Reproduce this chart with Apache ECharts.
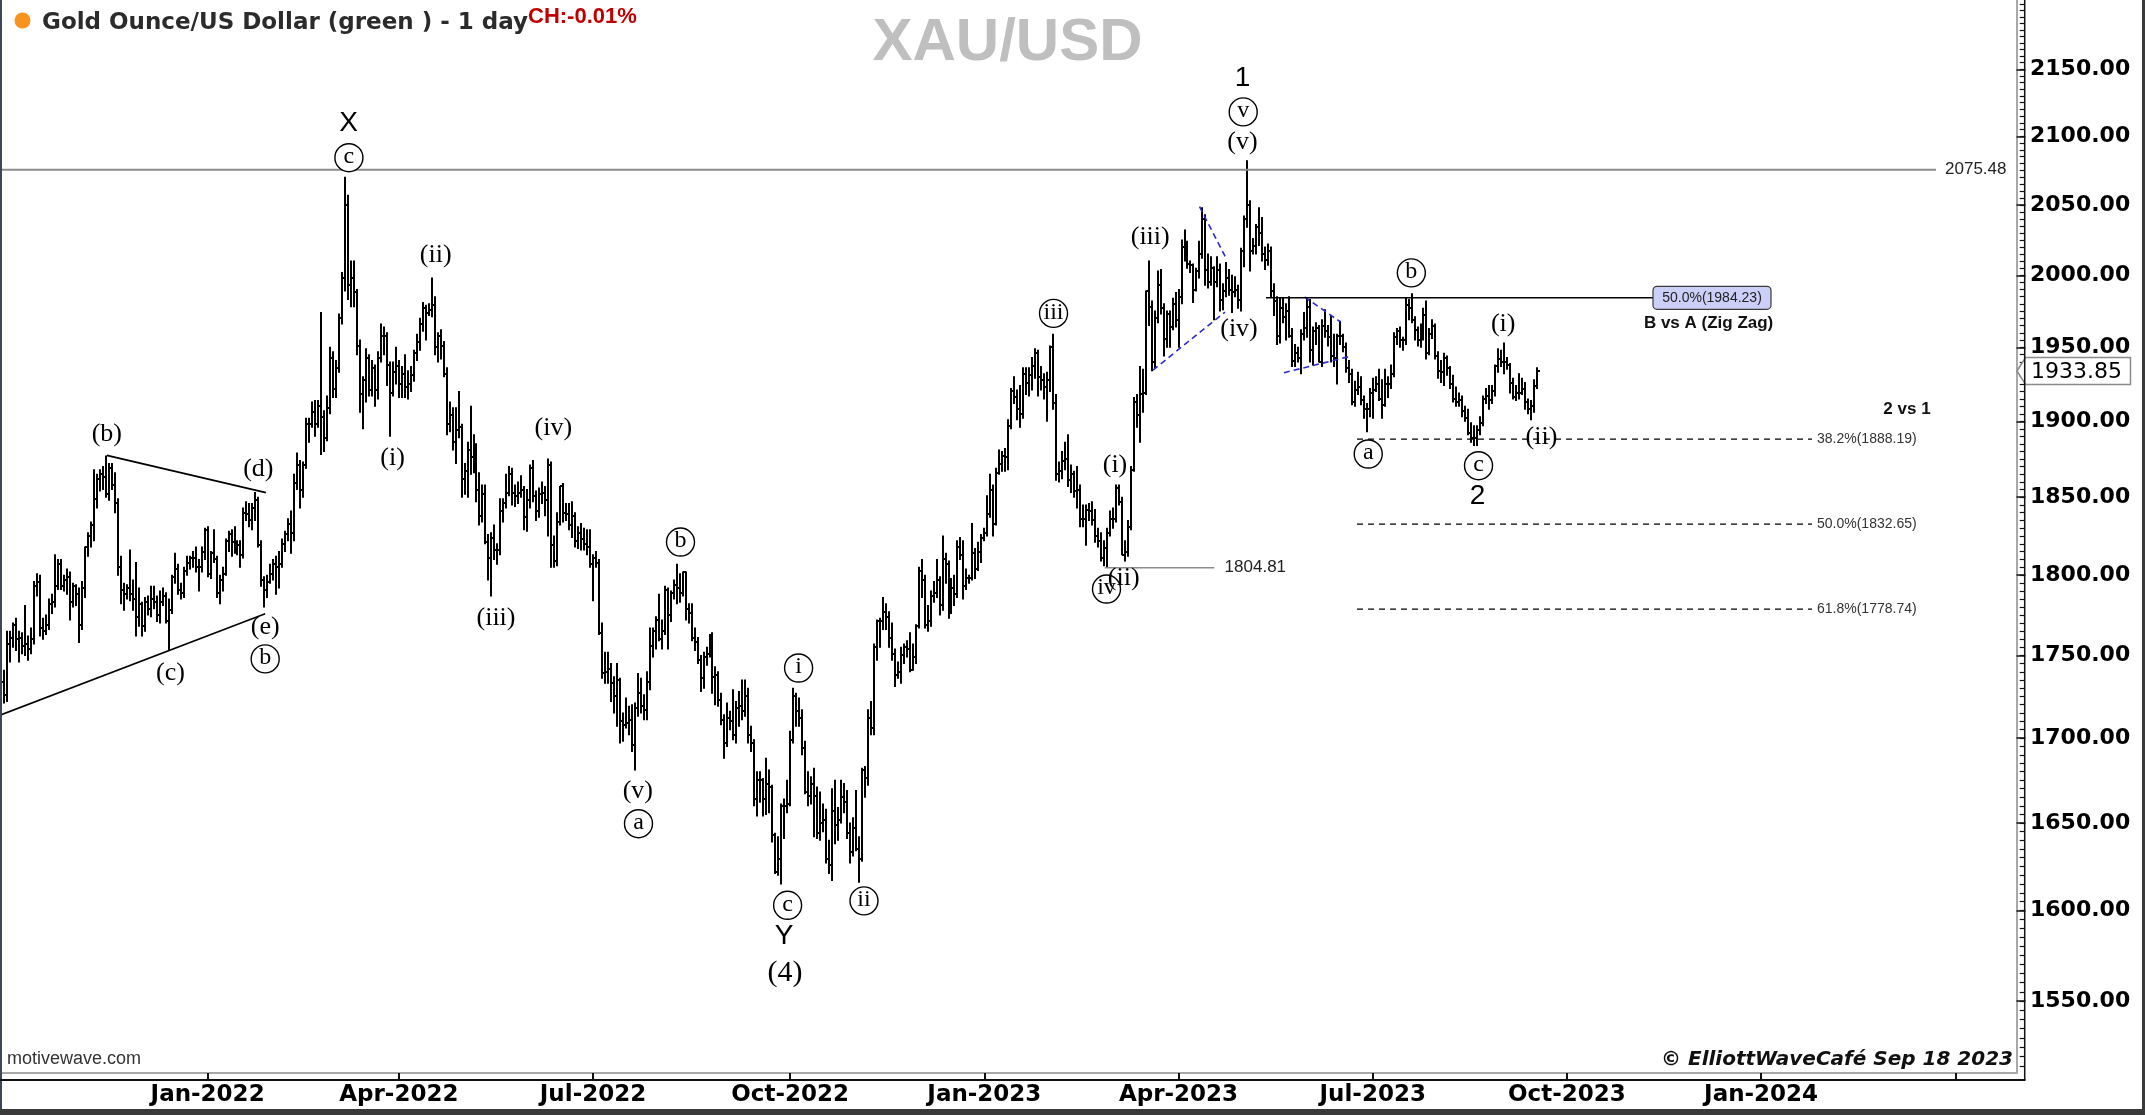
<!DOCTYPE html>
<html><head><meta charset="utf-8">
<script src="https://cdn.jsdelivr.net/npm/echarts@6/dist/echarts.min.js"></script>
<style>html,body{margin:0;padding:0;background:#fff}#c{width:2145px;height:1115px}</style>
</head><body><div id="c"></div>
<script>
// ---- Daily OHLC bars, per month: [day, open, high, low, close] ----
const m2021_09 = [[28,1750,1754,1728,1734],[29,1734,1741,1721,1726],[30,1726,1765,1722,1757]];
const m2021_10 = [[1,1757,1765,1746,1761],[4,1761,1770,1755,1769],[5,1769,1773,1753,1760],[6,1760,1765,1746,1761],[7,1761,1764,1751,1756],[8,1756,1781,1750,1757],[11,1757,1762,1747,1754],[12,1754,1767,1751,1760],[13,1760,1796,1757,1793],[14,1793,1801,1787,1796],[15,1796,1800,1762,1767],[18,1767,1773,1760,1765],[19,1765,1775,1763,1769],[20,1769,1785,1766,1782],[21,1782,1788,1776,1783],[22,1783,1813,1780,1793],[25,1793,1810,1791,1807],[26,1807,1810,1791,1793],[27,1793,1800,1790,1797],[28,1797,1804,1788,1799],[29,1799,1802,1772,1783]];
const m2021_11 = [[1,1783,1795,1780,1793],[2,1793,1794,1781,1788],[3,1788,1792,1758,1769],[4,1769,1796,1766,1792],[5,1792,1818,1786,1818],[8,1818,1827,1812,1825],[9,1825,1834,1818,1832],[10,1832,1868,1822,1849],[11,1849,1865,1843,1862],[12,1862,1868,1854,1865],[15,1865,1870,1855,1863],[16,1863,1877,1850,1852],[17,1852,1872,1848,1869],[18,1869,1872,1855,1858],[19,1858,1866,1840,1846],[22,1846,1849,1800,1805],[23,1805,1812,1782,1791],[24,1791,1795,1778,1788],[25,1788,1794,1785,1792],[26,1792,1816,1784,1788],[29,1788,1797,1778,1785],[30,1785,1808,1762,1774]];
const m2021_12 = [[1,1774,1792,1768,1782],[2,1782,1783,1762,1768],[3,1768,1786,1765,1783],[6,1783,1787,1775,1779],[7,1779,1793,1774,1785],[8,1785,1793,1779,1783],[9,1783,1787,1771,1775],[10,1775,1790,1770,1783],[13,1783,1792,1781,1787],[14,1787,1789,1770,1771],[15,1771,1785,1753,1778],[16,1778,1800,1776,1799],[17,1799,1814,1795,1804],[20,1804,1807,1788,1791],[21,1791,1795,1785,1789],[22,1789,1805,1786,1803],[23,1803,1812,1800,1808],[24,1808,1812,1804,1811],[27,1811,1815,1805,1811],[28,1811,1818,1802,1805],[29,1805,1810,1790,1805],[30,1805,1818,1802,1815],[31,1815,1830,1810,1829]];
const m2022_01 = [[3,1829,1831,1799,1801],[4,1801,1815,1798,1814],[5,1814,1829,1808,1810],[6,1810,1812,1786,1789],[7,1789,1800,1782,1797],[10,1797,1805,1790,1801],[11,1801,1823,1800,1822],[12,1822,1828,1815,1826],[13,1826,1829,1812,1821],[14,1821,1831,1814,1817],[17,1817,1822,1813,1819],[18,1819,1822,1805,1813],[19,1813,1843,1811,1840],[20,1840,1847,1835,1839],[21,1839,1846,1831,1835],[24,1835,1846,1829,1843],[25,1843,1853,1835,1848],[26,1848,1850,1818,1819],[27,1819,1822,1793,1797],[28,1797,1799,1780,1791],[31,1791,1800,1786,1796]];
const m2022_02 = [[1,1796,1807,1795,1801],[2,1801,1810,1797,1807],[3,1807,1812,1788,1805],[4,1805,1815,1792,1807],[7,1807,1823,1805,1820],[8,1820,1828,1815,1826],[9,1826,1836,1822,1833],[10,1833,1841,1814,1827],[11,1827,1865,1822,1859],[14,1859,1879,1855,1871],[15,1871,1874,1843,1855],[16,1855,1873,1850,1871],[17,1871,1902,1869,1898],[18,1898,1902,1886,1898],[21,1898,1913,1896,1906],[22,1906,1914,1890,1898],[23,1898,1914,1896,1910],[24,1910,1974,1878,1903],[25,1903,1907,1880,1889],[28,1889,1917,1887,1909]];
const m2022_03 = [[1,1909,1950,1905,1943],[2,1943,1947,1916,1922],[3,1922,1941,1916,1936],[4,1936,1973,1933,1970],[7,1970,2002,1966,1998],[8,1998,2070,1989,2050],[9,2050,2057,1983,1993],[10,1993,2010,1978,1998],[11,1998,2010,1978,1988],[14,1988,1990,1945,1951],[15,1951,1955,1906,1918],[16,1918,1930,1895,1928],[17,1928,1949,1913,1943],[18,1943,1945,1917,1921],[21,1921,1941,1917,1936],[22,1936,1938,1910,1921],[23,1921,1947,1915,1943],[24,1943,1966,1940,1958],[25,1958,1964,1945,1958],[28,1958,1960,1924,1938],[29,1938,1940,1890,1919],[30,1919,1940,1917,1933],[31,1933,1950,1925,1937]];
const m2022_04 = [[1,1937,1941,1916,1925],[4,1925,1937,1916,1932],[5,1932,1945,1916,1923],[6,1923,1934,1915,1925],[7,1925,1937,1920,1931],[8,1931,1948,1927,1946],[11,1946,1959,1941,1954],[12,1954,1970,1948,1966],[13,1966,1981,1961,1977],[14,1977,1979,1955,1974],[15,1974,1980,1972,1976],[18,1976,1998,1971,1979],[19,1979,1985,1945,1950],[20,1950,1960,1940,1958],[21,1958,1962,1942,1951],[22,1951,1954,1930,1932],[25,1932,1936,1891,1898],[26,1898,1913,1893,1904],[27,1904,1909,1881,1886],[28,1886,1909,1872,1894],[29,1894,1920,1889,1896]];
const m2022_05 = [[2,1896,1898,1850,1862],[3,1862,1872,1852,1867],[4,1867,1886,1850,1881],[5,1881,1910,1865,1876],[6,1876,1891,1866,1883],[9,1883,1885,1847,1855],[10,1855,1866,1832,1838],[11,1838,1858,1834,1852],[12,1852,1858,1820,1821],[13,1821,1826,1797,1811],[16,1811,1827,1787,1824],[17,1824,1832,1810,1816],[18,1816,1820,1807,1816],[19,1816,1849,1813,1841],[20,1841,1849,1834,1846],[23,1846,1865,1843,1853],[24,1853,1870,1851,1865],[25,1865,1869,1845,1853],[26,1853,1858,1844,1851],[27,1851,1860,1846,1853],[30,1853,1864,1850,1855],[31,1855,1857,1829,1837]];
const m2022_06 = [[1,1837,1855,1828,1848],[2,1848,1871,1843,1869],[3,1869,1874,1847,1851],[6,1851,1854,1835,1841],[7,1841,1856,1837,1852],[8,1852,1860,1846,1853],[9,1853,1857,1838,1848],[10,1848,1875,1825,1871],[13,1871,1873,1805,1819],[14,1819,1825,1805,1809],[15,1809,1840,1806,1834],[16,1834,1857,1832,1857],[17,1857,1859,1834,1840],[20,1840,1846,1835,1839],[21,1839,1846,1829,1832],[22,1832,1847,1824,1838],[23,1838,1840,1818,1822],[24,1822,1831,1817,1827],[27,1827,1833,1816,1823],[28,1823,1830,1816,1820],[29,1820,1829,1813,1818],[30,1818,1829,1805,1807]];
const m2022_07 = [[1,1807,1813,1784,1811],[4,1811,1815,1805,1808],[5,1808,1810,1763,1764],[6,1764,1770,1736,1739],[7,1739,1752,1733,1740],[8,1740,1752,1733,1742],[11,1742,1745,1722,1733],[12,1733,1737,1715,1725],[13,1725,1745,1707,1735],[14,1735,1736,1697,1710],[15,1710,1715,1698,1708],[18,1708,1724,1706,1709],[19,1709,1719,1702,1711],[20,1711,1720,1692,1696],[21,1696,1721,1681,1718],[22,1718,1739,1713,1727],[25,1727,1736,1715,1719],[26,1719,1726,1711,1717],[27,1717,1740,1711,1734],[28,1734,1767,1729,1756],[29,1756,1767,1749,1765]];
const m2022_08 = [[1,1765,1774,1754,1772],[2,1772,1788,1759,1760],[3,1760,1772,1754,1765],[4,1765,1793,1763,1791],[5,1791,1792,1754,1775],[8,1775,1790,1771,1789],[9,1789,1797,1785,1794],[10,1794,1807,1782,1792],[11,1792,1801,1783,1789],[12,1789,1802,1787,1802],[15,1802,1802,1772,1779],[16,1779,1782,1770,1776],[17,1776,1782,1759,1761],[18,1761,1767,1753,1758],[19,1758,1761,1745,1747],[22,1747,1750,1728,1736],[23,1736,1752,1730,1749],[24,1749,1755,1744,1751],[25,1751,1763,1749,1758],[26,1758,1764,1727,1737],[29,1737,1743,1720,1738],[30,1738,1740,1719,1723],[31,1723,1727,1708,1711]];
const m2022_09 = [[1,1711,1714,1688,1697],[2,1697,1721,1695,1712],[5,1712,1716,1705,1710],[6,1710,1729,1699,1702],[7,1702,1722,1697,1718],[8,1718,1728,1707,1719],[9,1719,1735,1711,1716],[12,1716,1735,1713,1725],[13,1725,1730,1697,1702],[14,1702,1707,1692,1697],[15,1697,1699,1660,1664],[16,1664,1680,1654,1675],[19,1675,1680,1662,1675],[20,1675,1676,1654,1664],[21,1664,1688,1655,1673],[22,1673,1681,1656,1671],[23,1671,1672,1639,1643],[26,1643,1644,1621,1622],[27,1622,1642,1620,1629],[28,1629,1661,1615,1660],[29,1660,1664,1641,1660],[30,1660,1675,1656,1661]];
const m2022_10 = [[3,1661,1704,1660,1699],[4,1699,1730,1697,1725],[5,1725,1727,1707,1716],[6,1716,1724,1707,1712],[7,1712,1717,1690,1694],[10,1694,1698,1667,1668],[11,1668,1680,1660,1666],[12,1666,1677,1661,1673],[13,1673,1682,1642,1666],[14,1666,1671,1641,1644],[17,1644,1668,1640,1650],[18,1650,1661,1645,1652],[19,1652,1658,1627,1629],[20,1629,1640,1621,1626],[21,1626,1670,1617,1657],[24,1657,1675,1638,1649],[25,1649,1659,1640,1652],[26,1652,1675,1650,1665],[27,1665,1673,1656,1662],[28,1662,1669,1641,1644],[31,1644,1650,1627,1633]];
const m2022_11 = [[1,1633,1653,1631,1647],[2,1647,1669,1634,1635],[3,1635,1642,1616,1629],[4,1629,1682,1628,1681],[7,1681,1683,1665,1676],[8,1676,1717,1672,1712],[9,1712,1722,1702,1706],[10,1706,1757,1702,1755],[11,1755,1772,1747,1771],[14,1771,1773,1755,1771],[15,1771,1786,1766,1777],[16,1777,1782,1766,1774],[17,1774,1777,1755,1761],[18,1761,1770,1747,1751],[21,1751,1754,1731,1738],[22,1738,1746,1736,1740],[23,1740,1755,1733,1750],[24,1750,1757,1745,1755],[25,1755,1759,1749,1754],[28,1754,1764,1740,1741],[29,1741,1757,1741,1749],[30,1749,1769,1745,1768]];
const m2022_12 = [[1,1768,1805,1767,1803],[2,1803,1810,1786,1797],[5,1797,1800,1767,1769],[6,1769,1781,1765,1771],[7,1771,1790,1768,1787],[8,1787,1796,1783,1789],[9,1789,1810,1786,1797],[12,1797,1799,1775,1781],[13,1781,1825,1778,1810],[14,1810,1814,1795,1807],[15,1807,1809,1773,1777],[16,1777,1798,1776,1792],[19,1792,1800,1781,1788],[20,1788,1822,1786,1818],[21,1818,1824,1810,1813],[22,1813,1822,1785,1793],[23,1793,1804,1791,1798],[26,1798,1800,1795,1798],[27,1798,1833,1797,1814],[28,1814,1817,1798,1804],[29,1804,1821,1803,1815],[30,1815,1826,1808,1824]];
const m2023_01 = [[2,1824,1830,1822,1827],[3,1827,1851,1825,1839],[4,1839,1865,1837,1855],[5,1855,1858,1825,1833],[6,1833,1869,1832,1866],[9,1866,1881,1865,1872],[10,1872,1880,1867,1877],[11,1877,1882,1867,1876],[12,1876,1901,1868,1897],[13,1897,1922,1895,1920],[16,1920,1930,1912,1916],[17,1916,1921,1901,1908],[18,1908,1924,1896,1905],[19,1905,1936,1902,1932],[20,1932,1936,1918,1926],[23,1926,1936,1917,1931],[24,1931,1943,1921,1937],[25,1937,1949,1929,1946],[26,1946,1948,1917,1930],[27,1930,1937,1921,1928],[30,1928,1932,1915,1923],[31,1923,1933,1900,1928]];
const m2023_02 = [[1,1928,1951,1920,1950],[2,1950,1959,1908,1912],[3,1912,1918,1861,1865],[6,1865,1873,1860,1867],[7,1867,1880,1862,1874],[8,1874,1886,1868,1875],[9,1875,1891,1857,1861],[10,1861,1871,1853,1865],[13,1865,1867,1850,1854],[14,1854,1870,1843,1855],[15,1855,1858,1831,1836],[16,1836,1845,1831,1836],[17,1836,1845,1819,1842],[20,1842,1846,1835,1841],[21,1841,1847,1832,1835],[22,1835,1842,1821,1825],[23,1825,1830,1818,1822],[24,1822,1827,1809,1811],[27,1811,1822,1806,1817],[28,1817,1830,1805,1827]];
const m2023_03 = [[1,1827,1841,1825,1836],[2,1836,1843,1830,1836],[3,1836,1858,1834,1856],[6,1856,1858,1845,1847],[7,1847,1850,1813,1813],[8,1813,1822,1809,1815],[9,1815,1835,1812,1831],[10,1831,1870,1829,1868],[13,1868,1916,1867,1913],[14,1913,1918,1896,1904],[15,1904,1937,1886,1918],[16,1918,1935,1906,1919],[17,1919,1989,1918,1989],[20,1989,2010,1965,1978],[21,1978,1982,1934,1940],[22,1940,1975,1936,1970],[23,1970,2003,1967,1993],[24,1993,2004,1973,1977],[27,1977,1980,1944,1956],[28,1956,1975,1950,1973],[29,1973,1975,1950,1964],[30,1964,1984,1962,1980],[31,1980,1988,1964,1969]];
const m2023_04 = [[3,1969,1990,1950,1985],[4,1985,2025,1980,2020],[5,2020,2032,2010,2021],[6,2021,2024,2005,2008],[7,2008,2010,2002,2007],[10,2007,2008,1981,1990],[11,1990,2005,1989,2003],[12,2003,2024,1998,2015],[13,2015,2048,2012,2040],[14,2040,2043,1993,2004],[17,2004,2015,1991,1995],[18,1995,2013,1993,2005],[19,2005,2006,1969,1995],[20,1995,2013,1992,2004],[21,2004,2008,1975,1983],[24,1983,1994,1976,1989],[25,1989,2009,1985,1998],[26,1998,2004,1986,1990],[27,1990,2000,1974,1988],[28,1988,1999,1985,1990]];
const m2023_05 = [[1,1990,1993,1977,1983],[2,1983,2019,1975,2017],[3,2017,2042,2006,2040],[4,2040,2082,2034,2050],[5,2050,2053,2003,2017],[8,2017,2026,2015,2021],[9,2021,2036,2015,2034],[10,2034,2048,2021,2030],[11,2030,2041,2010,2015],[12,2015,2020,2004,2011],[15,2011,2022,2007,2017],[16,2017,2020,1985,1989],[17,1989,1994,1972,1982],[18,1982,1985,1952,1958],[19,1958,1984,1953,1977],[22,1977,1984,1967,1971],[23,1971,1980,1955,1975],[24,1975,1985,1957,1958],[25,1958,1963,1937,1941],[26,1941,1952,1937,1946],[29,1946,1950,1940,1943],[30,1943,1962,1932,1959],[31,1959,1974,1955,1963]];
const m2023_06 = [[1,1963,1983,1957,1978],[2,1978,1983,1940,1948],[5,1948,1964,1938,1961],[6,1961,1967,1952,1963],[7,1963,1965,1940,1940],[8,1940,1969,1937,1965],[9,1965,1976,1957,1961],[12,1961,1965,1951,1957],[13,1957,1972,1940,1944],[14,1944,1959,1937,1943],[15,1943,1959,1925,1958],[16,1958,1968,1952,1958],[19,1958,1959,1947,1950],[20,1950,1953,1933,1936],[21,1936,1941,1926,1932],[22,1932,1935,1911,1913],[23,1913,1927,1910,1921],[26,1921,1933,1918,1923],[27,1923,1930,1911,1914],[28,1914,1917,1902,1908],[29,1908,1912,1893,1908],[30,1908,1922,1903,1919]];
const m2023_07 = [[3,1919,1929,1902,1921],[4,1921,1930,1920,1925],[5,1925,1935,1914,1915],[6,1915,1928,1902,1911],[7,1911,1935,1910,1925],[10,1925,1930,1916,1925],[11,1925,1938,1922,1932],[12,1932,1960,1930,1957],[13,1957,1963,1952,1961],[14,1961,1964,1950,1955],[17,1955,1957,1948,1955],[18,1955,1984,1952,1979],[19,1979,1983,1969,1977],[20,1977,1987,1967,1969],[21,1969,1971,1955,1962],[24,1962,1964,1951,1955],[25,1955,1966,1950,1965],[26,1965,1977,1955,1972],[27,1972,1982,1942,1946],[28,1946,1963,1945,1959],[31,1959,1969,1956,1965]];
const m2023_08 = [[1,1965,1966,1942,1944],[2,1944,1947,1929,1934],[3,1934,1941,1926,1933],[4,1933,1946,1924,1943],[7,1943,1944,1931,1936],[8,1936,1937,1922,1925],[9,1925,1931,1913,1915],[10,1915,1923,1910,1913],[11,1913,1919,1910,1914],[14,1914,1917,1903,1907],[15,1907,1910,1900,1902],[16,1902,1908,1891,1892],[17,1892,1899,1886,1889],[18,1889,1897,1884,1889],[21,1889,1897,1884,1894],[22,1894,1903,1891,1899],[23,1899,1917,1897,1915],[24,1915,1922,1912,1917],[25,1917,1924,1908,1914],[28,1914,1924,1912,1920],[29,1920,1938,1917,1937],[30,1937,1949,1933,1942],[31,1942,1948,1937,1940]];
const m2023_09 = [[1,1940,1953,1932,1940],[4,1940,1943,1935,1938],[5,1938,1939,1919,1926],[6,1926,1929,1915,1916],[7,1916,1924,1914,1919],[8,1919,1932,1915,1919],[11,1919,1929,1918,1922],[12,1922,1926,1908,1913],[13,1913,1915,1905,1908],[14,1908,1914,1901,1910],[15,1910,1928,1906,1924],[18,1924,1936,1922,1933.85]];

const monthly = [['2021-09',m2021_09],['2021-10',m2021_10],['2021-11',m2021_11],['2021-12',m2021_12],
 ['2022-01',m2022_01],['2022-02',m2022_02],['2022-03',m2022_03],['2022-04',m2022_04],['2022-05',m2022_05],['2022-06',m2022_06],
 ['2022-07',m2022_07],['2022-08',m2022_08],['2022-09',m2022_09],['2022-10',m2022_10],['2022-11',m2022_11],['2022-12',m2022_12],
 ['2023-01',m2023_01],['2023-02',m2023_02],['2023-03',m2023_03],['2023-04',m2023_04],['2023-05',m2023_05],['2023-06',m2023_06],
 ['2023-07',m2023_07],['2023-08',m2023_08],['2023-09',m2023_09]];

// Axis range and tick values
const axisStart = '2021-09-28', axisEnd = '2024-04-29';
const priceMin = 1511.3, priceMax = 2203;
const majorTicks = [1550,1600,1650,1700,1750,1800,1850,1900,1950,2000,2050,2100,2150];
const minorTicks = [];
for (let v = 1515; v <= 2200; v += 5) minorTicks.push(v);
const monthNames = ['Jan','Feb','Mar','Apr','May','Jun','Jul','Aug','Sep','Oct','Nov','Dec'];
const lastPrice = 1933.85;

// Wave labels: [text, barIndex, price, kind]  kind: p=paren, c=circled, s=sans big, n=serif big
const waveLabels = [
 ['(b)',35.25,1891.5,'p'],['(d)',85.96,1868.4,'p'],['(e)',88.27,1767.2,'p'],['b',88.27,1747.9,'c'],['(c)',56.57,1739.4,'p'],
 ['X',116.16,2109.6,'s'],['c',116.29,2084.3,'c'],['(i)',130.92,1875.6,'p'],['(ii)',145.35,2013.9,'p'],['(iii)',165.53,1773.3,'p'],
 ['(iv)',184.74,1895.6,'p'],['(v)',213.0,1668.6,'p'],['a',213.23,1649.6,'c'],['b',227.29,1821.1,'c'],['i',266.82,1742.3,'c'],
 ['c',263.14,1603.0,'c'],['Y',262.0,1585.7,'s'],['(4)',262.24,1565.5,'n'],['ii',288.71,1605.5,'c'],['iii',352.15,1973.4,'c'],
 ['(i)',372.73,1871.0,'p'],['iv',369.89,1791.3,'c'],['(ii)',375.65,1798.0,'p'],['(iii)',384.52,2026.6,'p'],['(iv)',414.24,1962.6,'p'],
 ['1',415.42,2143.1,'s'],['v',415.65,2118.1,'c'],['(v)',415.42,2095.9,'p'],['a',457.5,1878.3,'c'],['b',471.93,2001.7,'c'],
 ['c',494.42,1870.6,'c'],['2',494.05,1850.8,'s'],['(i)',502.67,1966.2,'p'],['(ii)',515.5,1889.3,'p']
];
// Drawn lines: [idx1, price1, idx2, price2, style]
const waveLines = [
 [35.25,1877.4,88.51,1853.0,'solid'],
 [-0.5,1713.7,88.27,1775.8,'solid'],
 [385.45,1934.5,409.55,1974.3,'blue'],
 [401.02,2048.8,409.65,2013.1,'blue'],
 [436.17,1984.8,448.29,1967.4,'blue'],
 [429.27,1932.7,451.17,1943.7,'blue'],
 [-0.5,2075.48,647.56,2075.48,'gray'],
 [369.32,1804.81,405.97,1804.81,'gray1'],
 [423.28,1984.23,552.82,1984.23,'solid'],
 [453.75,1888.19,606.05,1888.19,'dash'],
 [453.75,1832.65,606.05,1832.65,'dash'],
 [453.75,1778.74,606.05,1778.74,'dash']
];
// Text notes: [text, idx, price, kind]
const notes = [
 ['2075.48',650.57,2075.48,'lvl'],['1804.81',409.42,1804.81,'lvl'],
 ['38.2%(1888.19)',607.72,1888.19,'fib'],['50.0%(1832.65)',607.72,1832.65,'fib'],['61.8%(1778.74)',607.72,1778.74,'fib'],
 ['2 vs 1',637.84,1908.2,'bold'],['B vs A (Zig Zag)',571.43,1966.7,'bold'],['50.0%(1984.23)',572.57,1984.23,'box']
];

// ---- build categories (weekdays) and bars ----
const cats = [];
for (let t = Date.parse(axisStart + 'T00:00:00Z'); t <= Date.parse(axisEnd + 'T00:00:00Z'); t += 86400000) {
  const d = new Date(t); const wd = d.getUTCDay();
  if (wd === 0 || wd === 6) continue;
  cats.push(d.toISOString().slice(0, 10));
}
const catIndex = {}; cats.forEach((c, i) => catIndex[c] = i);
const bars = [];
monthly.forEach(([ym, arr]) => arr.forEach(r => {
  const idx = catIndex[ym + '-' + String(r[0]).padStart(2, '0')];
  if (idx !== undefined) bars.push([idx, r[1], r[2], r[3], r[4]]);
}));
function isQuarterStart(i) {
  const m = cats[i].slice(5, 7);
  if (cats[i].slice(0, 4) === '2021') return false;
  if (['01','04','07','10'].indexOf(m) < 0) return false;
  return i === 0 || cats[i - 1].slice(5, 7) !== m;
}
function monthLabel(v) {
  const y = v.slice(0, 4), m = +v.slice(5, 7);
  if (y === '2024' && m === 4) return '';
  return monthNames[m - 1] + '-' + y;
}
function xAt(api, idx) {
  const a = api.coord([0, 2000])[0], b = api.coord([1, 2000])[0];
  return a + idx * (b - a);
}
const FS = '"Liberation Serif", "Times New Roman", serif';
const FA = '"Liberation Sans", Arial, sans-serif';
function txt(x, y, text, font, fill, align) {
  return {type:'text', x:x, y:y, style:{text:text, font:font, fill:fill||'#000', align:align||'center', verticalAlign:'middle', textAlign:align||'center', textVerticalAlign:'middle'}};
}

const chart = echarts.init(document.getElementById('c'), null, {renderer:'canvas'});
const option = {
  animation: false,
  backgroundColor: '#ffffff',
  grid: {left: 0, right: 128.5, top: 0, bottom: 42, containLabel: false, outerBoundsMode: 'none'},
  xAxis: {
    type: 'category', data: cats, boundaryGap: true,
    axisLine: {show: true, lineStyle: {color: '#a8a8a8', width: 2}},
    axisTick: {show: true, alignWithLabel: true, interval: (i) => isQuarterStart(i), length: 7, lineStyle: {color: '#111', width: 2}},
    axisLabel: {show: true, interval: (i) => isQuarterStart(i), formatter: monthLabel, margin: 11, color: '#000', fontFamily: 'DejaVu Sans', fontWeight: 'bold', fontSize: 23},
    splitLine: {show: false}
  },
  yAxis: [
    {type: 'log', logBase: 10, min: priceMin, max: priceMax, position: 'right',
     axisLine: {show: true, onZero: false, lineStyle: {color: '#a8a8a8', width: 2}},
     axisTick: {show: true, customValues: majorTicks, length: 9, lineStyle: {color: '#111', width: 1.5}},
     axisLabel: {show: true, customValues: majorTicks, formatter: (v) => Number(v).toFixed(2), margin: 13.5, color: '#000', fontFamily: 'DejaVu Sans', fontWeight: 'bold', fontSize: 22},
     splitLine: {show: false}},
    {type: 'log', logBase: 10, min: priceMin, max: priceMax, position: 'right', offset: 8.2,
     axisLine: {show: false},
     axisTick: {show: true, inside: true, customValues: minorTicks, length: 5, lineStyle: {color: '#111', width: 1.2}},
     axisLabel: {show: false}, splitLine: {show: false}}
  ],
  series: [
    {
      type: 'custom', name: 'bars', data: bars, encode: {x: 0, y: [1, 2, 3, 4]}, z: 3, silent: true,
      renderItem: function (params, api) {
        const i = api.value(0);
        const pH = api.coord([i, api.value(2)]), pL = api.coord([i, api.value(3)]);
        const pO = api.coord([i, api.value(1)]), pC = api.coord([i, api.value(4)]);
        const x = Math.round(pH[0]);
        const st = {stroke: '#000', lineWidth: 2};
        return {type: 'group', children: [
          {type: 'line', shape: {x1: x, y1: pH[1] - 0.5, x2: x, y2: pL[1] + 0.5}, style: st},
          {type: 'line', shape: {x1: x - 3, y1: Math.round(pO[1]), x2: x, y2: Math.round(pO[1])}, style: {stroke: '#000', lineWidth: 2}},
          {type: 'line', shape: {x1: x, y1: Math.round(pC[1]), x2: x + 3, y2: Math.round(pC[1])}, style: {stroke: '#000', lineWidth: 2}}
        ]};
      }
    },
    {
      type: 'custom', name: 'lines', data: waveLines.map(l => [l[0], l[1]]), encode: {x: 0, y: 1}, z: 4, silent: true,
      renderItem: function (params, api) {
        const l = waveLines[params.dataIndex];
        const x1 = xAt(api, l[0]), x2 = xAt(api, l[2]);
        const y1 = api.coord([0, l[1]])[1], y2 = api.coord([0, l[3]])[1];
        let style = {stroke: '#000', lineWidth: 1.6};
        if (l[4] === 'blue') style = {stroke: '#2b2bd0', lineWidth: 1.6, lineDash: [6, 4]};
        if (l[4] === 'gray') style = {stroke: '#8c8c8c', lineWidth: 2};
        if (l[4] === 'gray1') style = {stroke: '#8c8c8c', lineWidth: 1.5};
        if (l[4] === 'dash') style = {stroke: '#000', lineWidth: 1.3, lineDash: [6, 5]};
        return {type: 'line', shape: {x1: x1, y1: y1, x2: x2, y2: y2}, style: style};
      }
    },
    {
      type: 'custom', name: 'notes', data: notes.map(n => [n[1], n[2]]), encode: {x: 0, y: 1}, z: 5, silent: true,
      renderItem: function (params, api) {
        const n = notes[params.dataIndex];
        const x = xAt(api, n[1]), y = api.coord([0, n[2]])[1];
        if (n[3] === 'lvl') return txt(x, y, n[0], '17px ' + FA, '#222', 'left');
        if (n[3] === 'fib') return txt(x, y, n[0], '14px ' + FA, '#333', 'left');
        if (n[3] === 'bold') return txt(x, y, n[0], 'bold 17px ' + FA, '#111', 'center');
        return {type: 'group', children: [
          {type: 'rect', shape: {x: x - 59, y: y - 11.5, width: 118, height: 23, r: 4}, style: {fill: '#ccd0f8', stroke: '#3a3a3a', lineWidth: 1.2}},
          txt(x, y + 0.5, n[0], '14px ' + FA, '#222', 'center')
        ]};
      }
    },
    {
      type: 'custom', name: 'waves', data: waveLabels.map(w => [w[1], w[2]]), encode: {x: 0, y: 1}, z: 6, silent: true,
      renderItem: function (params, api) {
        const w = waveLabels[params.dataIndex];
        const x = xAt(api, w[1]), y = api.coord([0, w[2]])[1];
        if (w[3] === 'c') {
          return {type: 'group', children: [
            {type: 'circle', shape: {cx: x, cy: y, r: 14}, style: {fill: '#fff', stroke: '#000', lineWidth: 1.4}},
            txt(x, y - 1, w[0], '24px ' + FS, '#000', 'center')
          ]};
        }
        if (w[3] === 's') return txt(x, y, w[0], '28px ' + FA, '#000', 'center');
        if (w[3] === 'n') return txt(x, y, w[0], '30px ' + FS, '#000', 'center');
        return txt(x, y, w[0], '26px ' + FS, '#000', 'center');
      }
    },
    {
      type: 'custom', name: 'lastPrice', data: [[bars.length - 1, lastPrice]], encode: {x: 0, y: 1}, z: 7, silent: true,
      renderItem: function (params, api) {
        const y = api.coord([0, lastPrice])[1];
        const x0 = params.coordSys.x + params.coordSys.width + 0.5;
        return {type: 'group', children: [
          {type: 'polygon', shape: {points: [[x0, y], [x0 + 8.5, y - 13.5], [x0 + 113.5, y - 13.5], [x0 + 113.5, y + 13.5], [x0 + 8.5, y + 13.5]]},
           style: {fill: '#fff', stroke: '#8a8a8a', lineWidth: 1.5}},
          txt(x0 + 14, y + 1, lastPrice.toFixed(2), '22px "DejaVu Sans"', '#000', 'left')
        ]};
      }
    }
  ],
  graphic: [
    {type: 'rect', shape: {x: 0, y: 0, width: 2, height: 1115}, style: {fill: '#3b4656'}, z: 10},
    {type: 'rect', shape: {x: 0, y: 1109, width: 2145, height: 6}, style: {fill: '#3a3a3a'}, z: 10},
    {type: 'rect', shape: {x: 2142, y: 0, width: 3, height: 1115}, style: {fill: '#3a3a3a'}, z: 10},
    {type: 'line', shape: {x1: 2024.7, y1: 0, x2: 2024.7, y2: 1080}, style: {stroke: '#111', lineWidth: 1.5}, z: 10},
    {type: 'line', shape: {x1: 0, y1: 1080, x2: 2025.5, y2: 1080}, style: {stroke: '#111', lineWidth: 2}, z: 10},
    {type: 'circle', shape: {cx: 22.5, cy: 20.5, r: 8}, style: {fill: '#f7931e'}, z: 10},
    {type: 'text', x: 42, y: 23, style: {text: 'Gold Ounce/US Dollar (green ) - 1 day', font: 'bold 23px "DejaVu Sans"', fill: '#2b2b2b', textVerticalAlign: 'middle', verticalAlign: 'middle'}, z: 10},
    {type: 'text', x: 528, y: 17, style: {text: 'CH:-0.01%', font: 'bold 22px ' + FA, fill: '#c00000', textVerticalAlign: 'middle', verticalAlign: 'middle'}, z: 10},
    {type: 'text', x: 1007.5, y: 43, style: {text: 'XAU/USD', font: 'bold 60px ' + FA, fill: '#bfbfbf', textAlign: 'center', align: 'center', textVerticalAlign: 'middle', verticalAlign: 'middle'}, z: 10},
    {type: 'text', x: 7, y: 1059, style: {text: 'motivewave.com', font: '18px ' + FA, fill: '#333', textVerticalAlign: 'middle', verticalAlign: 'middle'}, z: 10},
    {type: 'text', x: 2013, y: 1060, style: {text: '\u00a9 ElliottWaveCaf\u00e9 Sep 18 2023', font: 'italic bold 20px "DejaVu Sans"', fill: '#111', textAlign: 'right', align: 'right', textVerticalAlign: 'middle', verticalAlign: 'middle'}, z: 10}
  ]
};
chart.setOption(option);
</script>
</body></html>
